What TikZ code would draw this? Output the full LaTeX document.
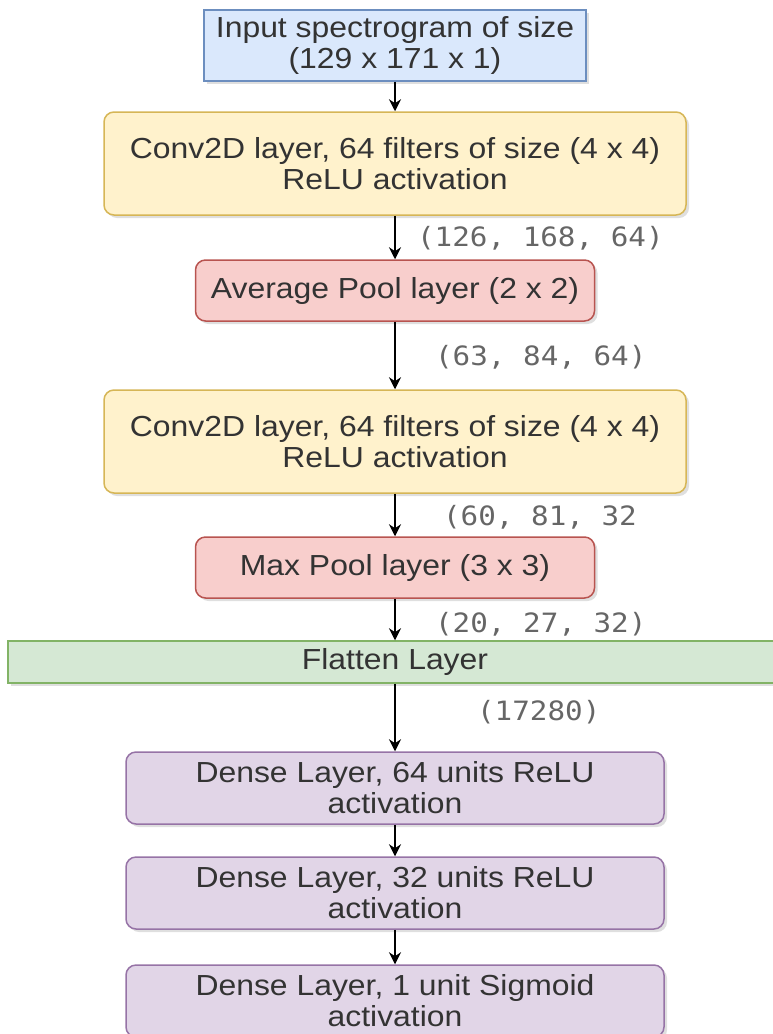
\documentclass[tikz,border=0pt]{standalone}
\usepackage{fontspec}
\setmainfont{Liberation Sans}[FakeStretch=1.1]
\setmonofont{DejaVu Sans Mono}[FakeStretch=1.1]
\usetikzlibrary{arrows.meta,positioning,shadows}

\definecolor{inblue}{HTML}{DAE8FC}\definecolor{inblueline}{HTML}{6C8EBF}
\definecolor{convyel}{HTML}{FFF2CC}\definecolor{convyelline}{HTML}{D6B656}
\definecolor{poolred}{HTML}{F8CECC}\definecolor{poolredline}{HTML}{B85450}
\definecolor{flatgrn}{HTML}{D5E8D4}\definecolor{flatgrnline}{HTML}{82B366}
\definecolor{densepur}{HTML}{E1D5E7}\definecolor{densepurline}{HTML}{9673A6}
\definecolor{txtgray}{HTML}{333333}

\begin{document}
\begin{tikzpicture}[x=0.5pt, y=-0.5pt,
    layer/.style={rectangle, line width=0.75pt, align=center, text=txtgray,
        font=\fontsize{14.5}{15.5}\selectfont,
        drop shadow={shadow xshift=1.5pt, shadow yshift=-1.5pt, opacity=0.25}},
    inputbox/.style={layer, draw=inblueline, fill=inblue, minimum width=191pt, minimum height=31.5pt},
    convbox/.style={layer, draw=convyelline, fill=convyel, rounded corners=5pt, minimum width=291pt, minimum height=51.5pt},
    poolbox/.style={layer, draw=poolredline, fill=poolred, rounded corners=5pt, minimum width=199.5pt, minimum height=30.5pt},
    flatbox/.style={layer, draw=flatgrnline, fill=flatgrn, minimum width=387pt, minimum height=21pt},
    densebox/.style={layer, draw=densepurline, fill=densepur, rounded corners=5pt, minimum width=269pt, minimum height=36pt},
    shapelbl/.style={anchor=west, text=black!60, font=\ttfamily\fontsize{13.3}{15}\selectfont},
    flow/.style={-{Stealth[length=6pt, width=6pt]}, line width=0.75pt}
]

% page frame
\useasboundingbox (0,0) rectangle (772,1034);

% convolutional part
\node[inputbox] (input) at (395, 45.5) {Input spectrogram of size\\(129 x 171 x 1)};
\node[convbox] (conv1) at (395, 163.5) {Conv2D layer, 64 filters of size (4 x 4)\\ReLU activation};
\node[poolbox] (avgpool) at (395, 290.5) {Average Pool layer (2 x 2)};
\node[convbox] (conv2) at (395, 441.5) {Conv2D layer, 64 filters of size (4 x 4)\\ReLU activation};
\node[poolbox] (maxpool) at (395, 567.5) {Max Pool layer (3 x 3)};

% flatten and dense part
\node[flatbox] (flatten) at (395, 662) {Flatten Layer};
\node[densebox] (dense1) at (395, 788) {Dense Layer, 64 units ReLU\\activation};
\node[densebox] (dense2) at (395, 893) {Dense Layer, 32 units ReLU\\activation};
\node[densebox] (dense3) at (395, 1001) {Dense Layer, 1 unit Sigmoid\\activation};

% output shapes
\node[shapelbl] (s1) at (410, 238) {(126, 168, 64)};
\node[shapelbl] (s2) at (428, 357) {(63, 84, 64)};
\node[shapelbl] (s3) at (436, 517) {(60, 81, 32};
\node[shapelbl] (s4) at (428, 624) {(20, 27, 32)};
\node[shapelbl] (s5) at (470, 712) {(17280)};

% arrows
\draw[flow] (input) -- (conv1);
\draw[flow] (conv1) -- (avgpool);
\draw[flow] (avgpool) -- (conv2);
\draw[flow] (conv2) -- (maxpool);
\draw[flow] (maxpool) -- (flatten);
\draw[flow] (flatten) -- (dense1);
\draw[flow] (dense1) -- (dense2);
\draw[flow] (dense2) -- (dense3);

\end{tikzpicture}
\end{document}
